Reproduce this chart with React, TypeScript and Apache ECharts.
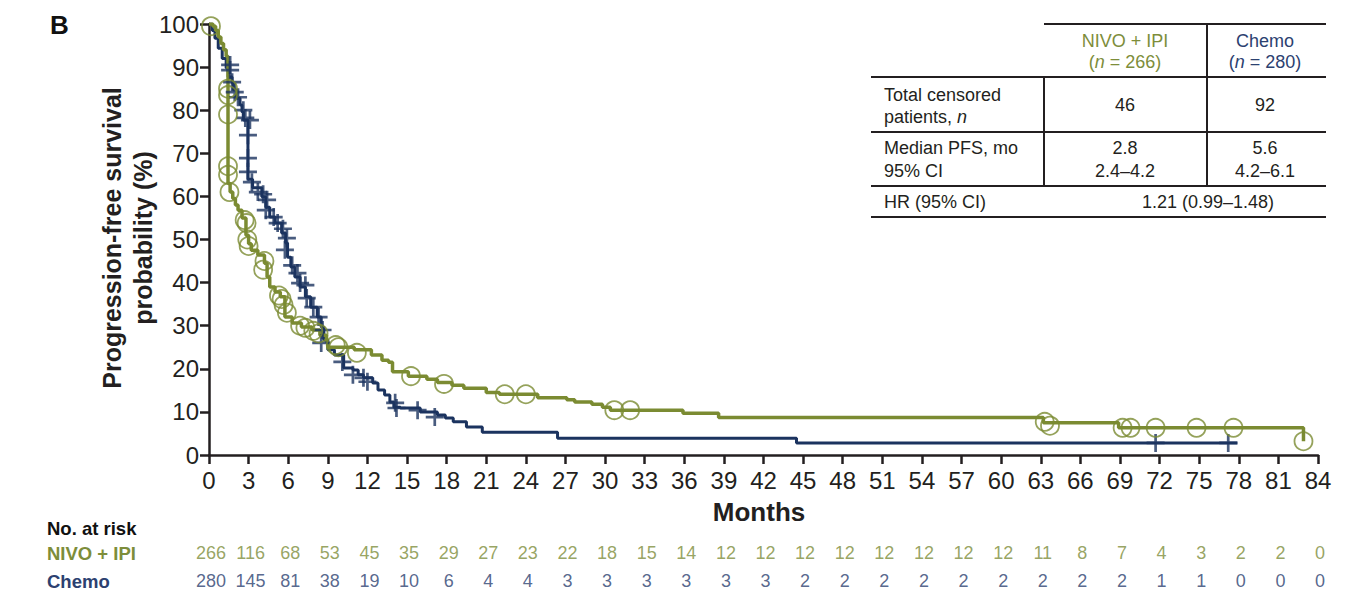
import React, { useEffect, useRef } from "react";
import * as echarts from "echarts";

// ---------- DATA ----------
const riskTimes = [0, 3, 6, 9, 12, 15, 18, 21, 24, 27, 30, 33, 36, 39, 42, 45, 48, 51, 54, 57, 60, 63, 66, 69, 72, 75, 78, 81, 84];
const nivoRisk = [266, 116, 68, 53, 45, 35, 29, 27, 23, 22, 18, 15, 14, 12, 12, 12, 12, 12, 12, 12, 12, 11, 8, 7, 4, 3, 2, 2, 0];
const chemoRisk = [280, 145, 81, 38, 19, 10, 6, 4, 4, 3, 3, 3, 3, 3, 3, 2, 2, 2, 2, 2, 2, 2, 2, 2, 1, 1, 0, 0, 0];

// Kaplan-Meier steps: [month, PFS % after the step]
const nivoSteps = [
  [0, 100], [0.3, 99.5], [0.5, 98.5], [0.7, 97], [0.9, 95.5], [1.1, 94], [1.3, 92.5], [1.44, 63],
  [1.6, 61], [1.8, 59.5], [2.0, 58], [2.2, 56.8], [2.5, 55], [2.8, 51], [3.0, 49], [3.2, 47.5],
  [3.7, 46.4], [4.2, 44.5], [4.4, 41.3], [4.6, 39], [5.0, 37.8], [5.4, 36.7], [5.75, 32], [6.3, 30.6],
  [7.0, 29.7], [7.8, 29], [8.4, 27.8], [8.9, 26.2], [9.0, 25], [11.0, 24.4], [12.3, 23.2], [13.1, 22],
  [13.6, 21.5], [13.9, 19.3], [15.1, 18.3], [16.5, 17.6], [17.3, 16.8], [18.4, 16.2], [19.3, 15.5], [21.0, 14.5],
  [22.0, 14.1], [24.9, 13.3], [27.1, 12.8], [27.7, 12.3], [29.0, 11.8], [29.8, 11.1], [30.4, 10.4], [35.9, 9.7],
  [38.6, 8.7], [63.2, 7.5], [68.9, 6.3], [82.9, 3.2],
];
const chemoSteps = [
  [0, 100], [0.25, 98.5], [0.45, 96.7], [0.7, 94.4], [1.0, 92], [1.3, 89.8], [1.45, 87.7], [1.75, 86.3],
  [1.85, 84.7], [2.1, 82.8], [2.35, 81.2], [2.5, 79.6], [2.6, 77.7], [2.95, 64], [3.3, 62], [4.0, 59.9],
  [4.3, 57.5], [4.6, 55.2], [5.0, 53.8], [5.5, 51.5], [5.8, 49.2], [5.95, 45.9], [6.2, 43.6], [6.5, 41.3],
  [6.9, 39], [7.3, 36.7], [7.7, 34.3], [8.2, 32], [8.5, 29.7], [8.7, 26.7], [9.0, 24.4], [9.5, 23.2],
  [10.2, 20.2], [10.9, 19.7], [11.3, 18.6], [11.7, 17.9], [12.4, 16.7], [12.8, 15.1], [13.3, 13.9], [13.7, 12.3],
  [14.0, 11.1], [14.5, 10.9], [16.0, 10.0], [17.3, 9.3], [17.9, 8.6], [18.5, 7.7], [19.5, 6.5], [20.7, 5.3],
  [26.4, 3.9], [44.5, 2.8], [77.9, 2.8],
];
// censored patients: [month, PFS %]
const nivoCensor = [
  [0.15, 99.5], [1.44, 85], [1.44, 83.5], [1.44, 79], [1.44, 67], [1.44, 65], [1.55, 61], [2.7, 54.5],
  [2.85, 53.8], [2.9, 50], [3.0, 48.5], [4.2, 45], [4.1, 43], [5.3, 37], [5.5, 36.2], [5.65, 34.8],
  [5.9, 33], [6.9, 30], [7.3, 29.5], [7.9, 28.8], [8.3, 28.2], [9.6, 25.5], [9.8, 25], [11.2, 23.7],
  [15.3, 18.3], [17.8, 16.5], [22.4, 14.1], [24.0, 14.1], [30.7, 10.4], [31.9, 10.4], [63.3, 7.7], [63.7, 6.8],
  [69.2, 6.3], [69.8, 6.3], [71.7, 6.3], [74.8, 6.3], [77.6, 6.3], [82.9, 3.2],
];
const chemoCensor = [
  [1.6, 90.5], [1.6, 89.3], [1.75, 86.5], [1.95, 84.2], [2.2, 83], [2.6, 80], [2.75, 78.2], [3.1, 77.7],
  [2.95, 74.2], [2.95, 68.9], [2.95, 65.7], [3.25, 63.3], [3.7, 61], [4.1, 60.5], [4.4, 59.2], [4.3, 56.8],
  [4.9, 55.2], [5.2, 53.8], [5.6, 52.5], [5.9, 50.3], [5.75, 47.6], [6.3, 44], [6.7, 42.2], [6.9, 39.9],
  [7.3, 39.4], [7.4, 36.4], [7.9, 34.3], [8.3, 32], [8.6, 29], [8.5, 26], [10.1, 21.6], [10.9, 18.6],
  [11.7, 17.9], [12.0, 17], [14.1, 12.1], [14.2, 10.9], [15.8, 10.4], [17.1, 8.8], [71.7, 2.8], [77.2, 2.8],
];

// ---------- STYLE ----------
const GREEN = "#7b8b32";
const NAVY = "#1b335f";
const GREEN_TXT = "#7d8d3a";
const NAVY_TXT = "#2c4170";
const INK = "#231f20";
const FONT = "'Liberation Sans', Arial, Helvetica, sans-serif";
const CROSS = "path://M8.5,0h3v8.5h8.5v3h-8.5v8.5h-3v-8.5h-8.5v-3h8.5z";

const txt = (x: number, y: number, text: string, opts: any = {}) => ({
  type: "text",
  x,
  y,
  silent: true,
  style: {
    text,
    fill: opts.fill || INK,
    font: `${opts.weight || "normal"} ${opts.size || 18}px ${FONT}`,
    textAlign: opts.align || "left",
    align: opts.align || "left",
    textVerticalAlign: "middle",
    verticalAlign: "middle",
  },
});

const richTxt = (x: number, y: number, num: string, color: string, align = "center") => ({
  type: "text",
  x,
  y,
  silent: true,
  style: {
    text: num,
    fill: color,
    font: `18px ${FONT}`,
    textAlign: align,
    align,
    textVerticalAlign: "middle",
    verticalAlign: "middle",
    rich: {
      a: { fill: color, fontSize: 18, fontFamily: FONT },
      i: { fill: color, fontSize: 18, fontFamily: FONT, fontStyle: "italic" },
    },
  },
});

const hline = (x1: number, x2: number, y: number) => ({
  type: "line",
  silent: true,
  shape: { x1, y1: y, x2, y2: y },
  style: { stroke: INK, lineWidth: 2 },
});
const vline = (x: number, y1: number, y2: number) => ({
  type: "line",
  silent: true,
  shape: { x1: x, y1, x2: x, y2 },
  style: { stroke: INK, lineWidth: 2 },
});

export default function App() {
  const ref = useRef<HTMLDivElement>(null);
  useEffect(() => {
    if (!ref.current) return;
    const chart = echarts.init(ref.current, null, { renderer: "svg" });
    const hiddenAxis = (gridIndex: number) => ({
      type: "value",
      gridIndex,
      min: 0,
      max: 84,
      show: false,
    });
    const hiddenY = (gridIndex: number) => ({
      type: "value",
      gridIndex,
      min: 0,
      max: 2,
      show: false,
    });
    const riskSeries = (idx: number, values: number[], color: string) => ({
      type: "scatter",
      xAxisIndex: idx,
      yAxisIndex: idx,
      symbolSize: 1,
      itemStyle: { color: "rgba(0,0,0,0)" },
      data: riskTimes.map((t, i) => [t, 1, values[i]]),
      label: {
        show: true,
        position: "inside",
        formatter: (p: any) => String(p.data[2]),
        color,
        fontSize: 18,
        fontFamily: FONT,
      },
      silent: true,
    });

    chart.setOption({
      animation: false,
      backgroundColor: "#ffffff",
      grid: [
        { left: 209, top: 24, width: 1109, height: 431 },
        { left: 211, top: 548, width: 1109, height: 10 },
        { left: 211, top: 576, width: 1109, height: 10 },
      ],
      xAxis: [
        {
          type: "value",
          gridIndex: 0,
          min: 0,
          max: 84,
          interval: 3,
          splitLine: { show: false },
          axisLine: { onZero: false, lineStyle: { color: INK, width: 2.5 } },
          axisTick: { length: 9, lineStyle: { color: INK, width: 2.5 } },
          axisLabel: { color: INK, fontSize: 24, fontFamily: FONT, margin: 13 },
        },
        hiddenAxis(1),
        hiddenAxis(2),
      ],
      yAxis: [
        {
          type: "value",
          gridIndex: 0,
          min: 0,
          max: 100,
          interval: 10,
          splitLine: { show: false },
          axisLine: { show: true, lineStyle: { color: INK, width: 2.5 } },
          axisTick: { show: true, length: 9, lineStyle: { color: INK, width: 2.5 } },
          axisLabel: { color: INK, fontSize: 24, fontFamily: FONT, margin: 10 },
        },
        hiddenY(1),
        hiddenY(2),
      ],
      series: [
        {
          type: "line",
          step: "end",
          data: chemoSteps,
          showSymbol: false,
          symbol: "none",
          lineStyle: { color: NAVY, width: 3 },
          z: 2,
          silent: true,
        },
        {
          type: "line",
          step: "end",
          data: nivoSteps,
          showSymbol: false,
          symbol: "none",
          lineStyle: { color: GREEN, width: 3.5 },
          z: 3,
          silent: true,
        },
        {
          type: "scatter",
          data: chemoCensor,
          symbol: CROSS,
          symbolSize: 18,
          itemStyle: { color: NAVY },
          z: 4,
          silent: true,
        },
        {
          type: "scatter",
          data: nivoCensor,
          symbol: "circle",
          symbolSize: 18,
          itemStyle: { color: "rgba(255,255,255,0)", borderColor: GREEN, borderWidth: 1.8 },
          z: 5,
          silent: true,
        },
        riskSeries(1, nivoRisk, GREEN_TXT),
        riskSeries(2, chemoRisk, NAVY_TXT),
      ],
      graphic: [
        txt(50, 25, "B", { weight: "bold", size: 26, fill: "#111" }),
        {
          type: "text",
          x: 127,
          y: 238,
          rotation: Math.PI / 2,
          silent: true,
          style: {
            text: "Progression-free survival\nprobability (%)",
            fill: INK,
            font: `bold 25px ${FONT}`,
            lineHeight: 31,
            textAlign: "center",
            align: "center",
            textVerticalAlign: "middle",
            verticalAlign: "middle",
          },
        },
        txt(759, 512, "Months", { weight: "bold", size: 26, align: "center" }),
        // at-risk table labels
        txt(47, 528, "No. at risk", { weight: "bold", size: 18.5, fill: "#111" }),
        txt(47, 553, "NIVO + IPI", { weight: "bold", size: 18.5, fill: GREEN_TXT }),
        txt(47, 581, "Chemo", { weight: "bold", size: 18.5, fill: NAVY_TXT }),
        // summary table
        hline(1044, 1326, 24),
        hline(871, 1326, 77),
        hline(871, 1326, 132),
        hline(871, 1326, 186),
        hline(871, 1326, 217),
        vline(1044, 77, 186),
        vline(1207, 24, 186),
        txt(1125, 41, "NIVO + IPI", { fill: GREEN_TXT, align: "center" }),
        richTxt(1125, 62, "{a|(}{i|n}{a| = 266)}", GREEN_TXT),
        txt(1265, 41, "Chemo", { fill: NAVY_TXT, align: "center" }),
        richTxt(1265, 62, "{a|(}{i|n}{a| = 280)}", NAVY_TXT),
        txt(884, 95, "Total censored"),
        richTxt(884, 117, "{a|patients, }{i|n}", INK, "left"),
        txt(1125, 105, "46", { align: "center" }),
        txt(1265, 105, "92", { align: "center" }),
        txt(884, 148, "Median PFS, mo"),
        txt(884, 171, "95% CI"),
        txt(1125, 148, "2.8", { align: "center" }),
        txt(1125, 171, "2.4–4.2", { align: "center" }),
        txt(1265, 148, "5.6", { align: "center" }),
        txt(1265, 171, "4.2–6.1", { align: "center" }),
        txt(884, 202, "HR (95% CI)"),
        txt(1208, 202, "1.21 (0.99–1.48)", { align: "center" }),
      ],
    });
    return () => chart.dispose();
  }, []);
  return (
    <div
      ref={ref}
      style={{ position: "absolute", left: 0, top: 0, width: 1351, height: 612, background: "#fff" }}
    />
  );
}
